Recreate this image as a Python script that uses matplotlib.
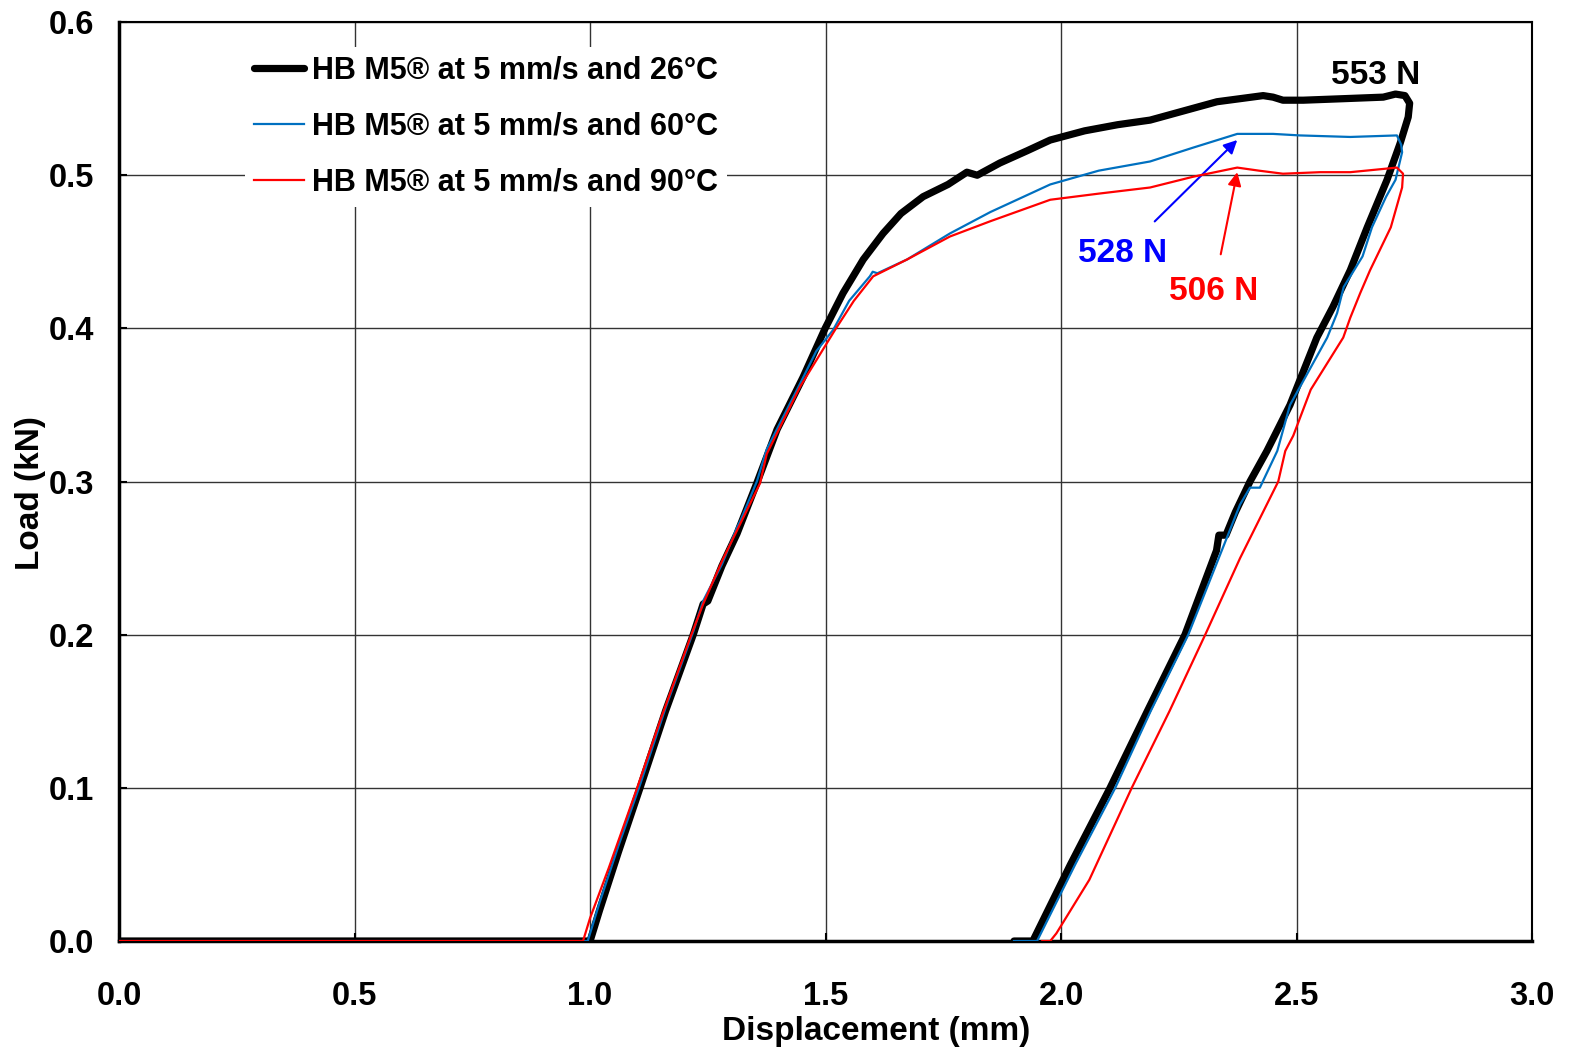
import numpy as np
import matplotlib.pyplot as plt

plt.rcParams['font.family'] = ['Liberation Sans', 'DejaVu Sans']
plt.rcParams['font.weight'] = 'bold'

# HB M5 at 26 C (displacement mm, load kN)
x26 = [0.0, 0.98, 1.0, 1.02, 1.06, 1.106, 1.16, 1.219, 1.24, 1.25, 1.28, 1.312, 1.354, 1.397,
       1.452, 1.499, 1.537, 1.58, 1.622, 1.66, 1.707, 1.76, 1.785, 1.80, 1.822, 1.87, 1.928,
       1.977, 2.05, 2.12, 2.189, 2.26, 2.331, 2.38, 2.429, 2.45, 2.471, 2.514, 2.6, 2.684,
       2.71, 2.73, 2.74, 2.737, 2.72, 2.692, 2.65, 2.614, 2.577, 2.543, 2.486, 2.437, 2.401,
       2.37, 2.35, 2.335, 2.33, 2.263, 2.183, 2.104, 2.02, 1.94, 1.90]
y26 = [0.0, 0.0, 0.0, 0.02, 0.058, 0.1, 0.15, 0.2, 0.22, 0.222, 0.245, 0.266, 0.299, 0.334,
       0.368, 0.4, 0.423, 0.445, 0.462, 0.475, 0.486, 0.494, 0.499, 0.502, 0.5, 0.508, 0.516,
       0.523, 0.529, 0.533, 0.536, 0.542, 0.548, 0.55, 0.552, 0.551, 0.549, 0.549, 0.55, 0.551,
       0.553, 0.552, 0.547, 0.538, 0.521, 0.497, 0.466, 0.438, 0.414, 0.394, 0.35, 0.32, 0.3,
       0.28, 0.265, 0.265, 0.255, 0.2, 0.15, 0.1, 0.05, 0.0, 0.0]

# HB M5 at 60 C
x60 = [0.0, 0.98, 0.995, 1.02, 1.06, 1.106, 1.16, 1.219, 1.24, 1.28, 1.312, 1.32, 1.354,
       1.375, 1.446, 1.48, 1.516, 1.55, 1.594, 1.60, 1.61, 1.673, 1.764, 1.85, 1.977, 2.08,
       2.189, 2.28, 2.374, 2.45, 2.507, 2.614, 2.713, 2.722, 2.724, 2.71, 2.69, 2.66, 2.64,
       2.60, 2.586, 2.565, 2.486, 2.459, 2.422, 2.401, 2.38, 2.27, 2.19, 2.115, 2.03, 1.949, 1.90]
y60 = [0.0, 0.0, 0.0, 0.025, 0.062, 0.102, 0.152, 0.202, 0.222, 0.246, 0.27, 0.275, 0.3,
       0.321, 0.364, 0.385, 0.399, 0.418, 0.434, 0.437, 0.436, 0.445, 0.462, 0.476, 0.494, 0.503,
       0.509, 0.518, 0.527, 0.527, 0.526, 0.525, 0.526, 0.52, 0.515, 0.497, 0.486, 0.466, 0.447,
       0.427, 0.41, 0.394, 0.35, 0.32, 0.296, 0.296, 0.285, 0.2, 0.15, 0.1, 0.05, 0.0, 0.0]

# HB M5 at 90 C
x90 = [0.0, 0.98, 0.985, 1.0, 1.04, 1.1, 1.15, 1.215, 1.24, 1.28, 1.361, 1.375, 1.446, 1.52,
       1.56, 1.601, 1.673, 1.764, 1.85, 1.977, 2.08, 2.189, 2.28, 2.374, 2.42, 2.471, 2.55,
       2.614, 2.713, 2.726, 2.724, 2.70, 2.656, 2.635, 2.614, 2.599, 2.53, 2.493, 2.476, 2.461,
       2.38, 2.306, 2.23, 2.15, 2.06, 1.99, 1.977, 1.96]
y90 = [0.0, 0.0, 0.0, 0.015, 0.048, 0.1, 0.145, 0.2, 0.22, 0.248, 0.299, 0.318, 0.362, 0.399,
       0.418, 0.434, 0.445, 0.46, 0.47, 0.484, 0.488, 0.492, 0.499, 0.505, 0.503, 0.501, 0.502,
       0.502, 0.505, 0.501, 0.492, 0.466, 0.438, 0.423, 0.407, 0.394, 0.36, 0.33, 0.32, 0.3,
       0.25, 0.2, 0.15, 0.1, 0.04, 0.005, 0.0, 0.0]

labels = ['HB M5® at 5 mm/s and 26°C', 'HB M5® at 5 mm/s and 60°C', 'HB M5® at 5 mm/s and 90°C']

fig = plt.figure(figsize=(15.73, 10.52), dpi=100)
ax = fig.add_axes([0.0757, 0.1055, 0.8983, 0.8735])

ax.plot(x26, y26, color='black', lw=5.2, label=labels[0], zorder=3, solid_capstyle='round')
ax.plot(x60, y60, color='#0070C0', lw=1.6, label=labels[1], zorder=4)
ax.plot(x90, y90, color='#FF0000', lw=1.6, label=labels[2], zorder=5)

ax.set_xlim(0, 3.0)
ax.set_ylim(0, 0.6)
ax.set_xticks(np.arange(0, 3.01, 0.5))
ax.set_yticks(np.arange(0, 0.61, 0.1))
ax.xaxis.set_major_formatter(plt.FormatStrFormatter('%.1f'))
ax.yaxis.set_major_formatter(plt.FormatStrFormatter('%.1f'))
ax.grid(True, color='#333333', lw=1.0)
ax.set_axisbelow(True)
ax.tick_params(direction='in', length=6, width=1.5, labelsize=23.5)
ax.tick_params(axis='x', pad=29)
ax.tick_params(axis='y', pad=18)
for s in ['left', 'bottom']:
    ax.spines[s].set_linewidth(2.5)
for s in ['top', 'right']:
    ax.spines[s].set_linewidth(1.5)

ax.set_xlabel('Displacement (mm)', fontsize=24, fontweight='bold')
ax.set_ylabel('Load (kN)', fontsize=24, fontweight='bold')
ax.xaxis.set_label_coords(0.536, -0.082)
ax.yaxis.set_label_coords(-0.052, 0.488)

leg = ax.legend(loc='upper left', bbox_to_anchor=(0.078, 0.99), fontsize=22, frameon=True,
                handlelength=1.65, handletextpad=0.25, labelspacing=0.85, borderpad=0.3)
leg.get_frame().set_edgecolor('none')
leg.get_frame().set_facecolor('white')
leg.get_frame().set_alpha(1)
for t in leg.get_texts():
    t.set_fontweight('bold')

ax.text(2.667, 0.565, '553 N', fontsize=24, fontweight='bold', color='black', ha='center', va='center')
ax.annotate('528 N', xy=(2.374, 0.523), xytext=(2.13, 0.449), fontsize=24, fontweight='bold',
            color='#0000FF', ha='center', va='center',
            arrowprops=dict(arrowstyle='-|>', color='#0000FF', lw=1.5, mutation_scale=20,
                            shrinkA=14, shrinkB=0))
ax.annotate('506 N', xy=(2.374, 0.502), xytext=(2.323, 0.424), fontsize=24, fontweight='bold',
            color='#FF0000', ha='center', va='center',
            arrowprops=dict(arrowstyle='-|>', color='#FF0000', lw=1.5, mutation_scale=20,
                            shrinkA=14, shrinkB=0))

fig.savefig('out.png', dpi=100)
